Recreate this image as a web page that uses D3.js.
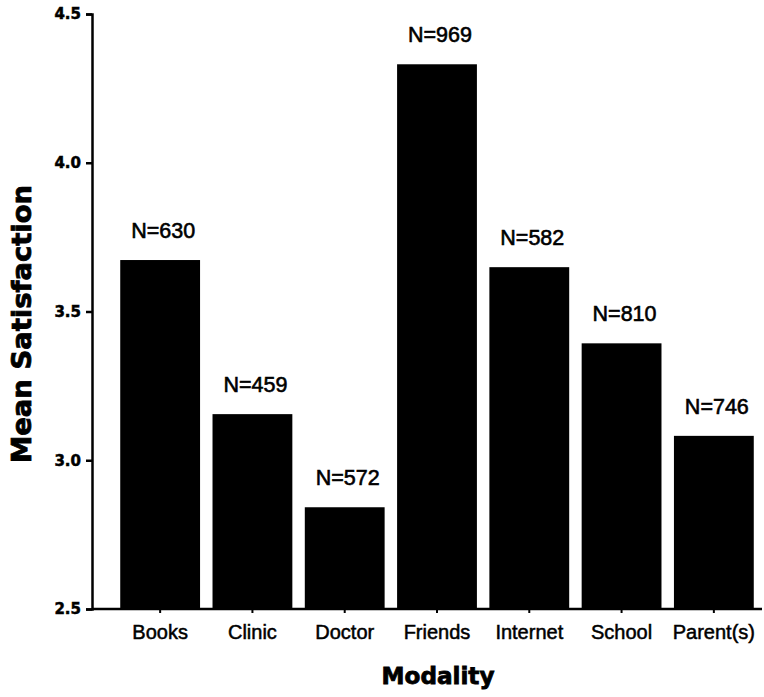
<!DOCTYPE html>
<html>
<head>
<meta charset="utf-8">
<script src="https://cdn.jsdelivr.net/npm/d3@7"></script>
<style>
  html, body { margin: 0; padding: 0; background: #fff; }
  svg { display: block; }
</style>
</head>
<body>
<svg id="chart" width="764" height="697"></svg>
<script>
const categories = ["Books", "Clinic", "Doctor", "Friends", "Internet", "School", "Parent(s)"];
const meanSatisfaction = [3.673, 3.155, 2.842, 4.331, 3.649, 3.393, 3.082];
const sampleSizes = ["N=630", "N=459", "N=572", "N=969", "N=582", "N=810", "N=746"];
const yTicks = [2.5, 3.0, 3.5, 4.0, 4.5];

const svg = d3.select("#chart");
const axisX = 92, baseY = 609, topY = 14;

const x = d3.scaleBand().domain(categories).range([114, 760])
  .paddingInner(0.135).paddingOuter(0.0675);
const y = d3.scaleLinear().domain([2.5, 4.5]).range([baseY, topY]);

const data = categories.map((c, i) => ({ c, v: meanSatisfaction[i], n: sampleSizes[i] }));

// bars
svg.append("g").selectAll("rect").data(data).join("rect")
  .attr("x", d => x(d.c))
  .attr("y", d => y(d.v))
  .attr("width", x.bandwidth())
  .attr("height", d => baseY - y(d.v))
  .attr("fill", "#000");

// N labels
svg.append("g").selectAll("text").data(data).join("text")
  .attr("x", d => x(d.c) + x.bandwidth() / 2 + 3)
  .attr("y", d => y(d.v) - 22)
  .attr("text-anchor", "middle")
  .attr("font-family", "'Liberation Sans', Arial, sans-serif")
  .attr("font-size", 22)
  .attr("textLength", 64).attr("lengthAdjust", "spacingAndGlyphs")
  .attr("fill", "#000")
  .attr("stroke", "#000").attr("stroke-width", 0.6)
  .text(d => d.n);

// y axis
const yAxis = d3.axisLeft(y).tickValues(yTicks).tickFormat(d3.format(".1f"))
  .tickSize(6).tickPadding(5);
const gy = svg.append("g").attr("transform", `translate(${axisX},0)`).call(yAxis);
gy.select(".domain").attr("stroke", "#000").attr("stroke-width", 2.5);
gy.selectAll(".tick line").attr("stroke", "#000").attr("stroke-width", 2.5);
gy.selectAll(".tick text")
  .attr("font-family", "'DejaVu Sans', sans-serif")
  .attr("font-weight", "bold")
  .attr("font-size", 15)
  .attr("stroke", "#000").attr("stroke-width", 0.5)
  .attr("fill", "#000");

// x axis ticks and labels
const xAxis = d3.axisBottom(x).tickSize(4).tickPadding(12);
const gx = svg.append("g").attr("transform", `translate(0,${baseY})`).call(xAxis);
gx.select(".domain").remove();
gx.selectAll(".tick line").attr("stroke", "#000").attr("stroke-width", 2);
gx.selectAll(".tick text")
  .attr("font-family", "'Liberation Sans', Arial, sans-serif")
  .attr("font-size", 20)
  .attr("stroke", "#000").attr("stroke-width", 0.5)
  .attr("fill", "#000");
svg.append("line")
  .attr("x1", axisX).attr("x2", 762)
  .attr("y1", baseY).attr("y2", baseY)
  .attr("stroke", "#000").attr("stroke-width", 2.5);

// axis titles
svg.append("text")
  .attr("x", 438).attr("y", 684)
  .attr("text-anchor", "middle")
  .attr("font-family", "'DejaVu Sans', sans-serif")
  .attr("font-weight", "bold")
  .attr("font-size", 23)
  .attr("textLength", 113).attr("lengthAdjust", "spacingAndGlyphs")
  .attr("stroke", "#000").attr("stroke-width", 0.8)
  .attr("fill", "#000")
  .text("Modality");

svg.append("text")
  .attr("transform", "translate(31,324) rotate(-90)")
  .attr("text-anchor", "middle")
  .attr("font-family", "'DejaVu Sans', sans-serif")
  .attr("font-weight", "bold")
  .attr("font-size", 27)
  .attr("textLength", 278).attr("lengthAdjust", "spacingAndGlyphs")
  .attr("stroke", "#000").attr("stroke-width", 0.8)
  .attr("fill", "#000")
  .text("Mean Satisfaction");
</script>
</body>
</html>
